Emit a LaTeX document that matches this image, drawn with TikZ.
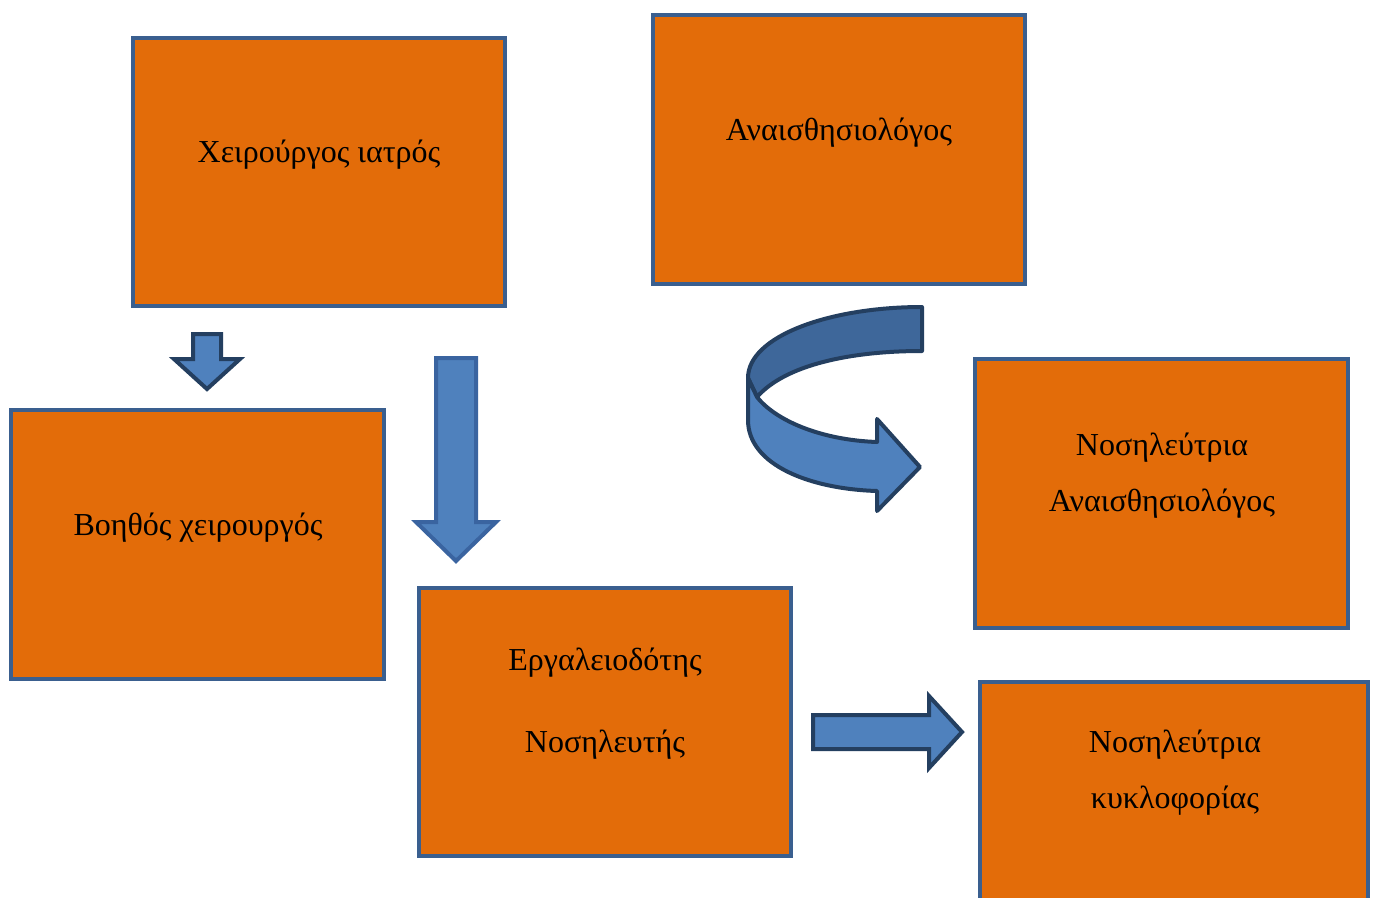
\documentclass[tikz,border=0pt]{standalone}
\usepackage{fontspec}
\setmainfont{Liberation Serif}
\definecolor{boxfill}{HTML}{E36C09}
\definecolor{boxline}{HTML}{3A5F8F}
\definecolor{arrfill}{HTML}{4F81BD}
\definecolor{arrline}{HTML}{243F60}
\definecolor{arrlinelight}{HTML}{3A64A0}
\definecolor{backband}{HTML}{3E679A}
\begin{document}
\begin{tikzpicture}[x=1pt,y=-1pt,
  box/.style={draw=boxline,fill=boxfill,line width=4pt,inner sep=0pt},
  lbl/.style={font=\fontsize{32}{38}\selectfont,text height=0.7em,text depth=0.25em,inner sep=0pt,anchor=center},
  blockarrow/.style={draw=arrline,fill=arrfill,line width=4pt,line join=miter},
]
\useasboundingbox (0,0) rectangle (1378,897);
\clip (0,0) rectangle (1378,897);
\fill[white] (0,0) rectangle (1378,897);

% boxes
\draw[box] (133,38) rectangle (505,306) node[pos=0.5] (b1) {};
\draw[box] (653,15) rectangle (1025,284) node[pos=0.5] (b2) {};
\draw[box] (11,410) rectangle (384,679) node[pos=0.5] (b3) {};
\draw[box] (419,588) rectangle (791,856) node[pos=0.5] (b4) {};
\draw[box] (975,359) rectangle (1348,628) node[pos=0.5] (b5) {};
\draw[box] (980,682) rectangle (1368,940) node[pos=0.5] (b6) {};

% labels
\node[lbl] (t1) at (319,160) {Χειρούργος ιατρός};
\node[lbl] (t2) at (839,138) {Αναισθησιολόγος};
\node[lbl] (t3) at (198,533) {Βοηθός χειρουργός};
\node[lbl] (t4a) at (605,668) {Εργαλειοδότης};
\node[lbl] (t4b) at (605,750) {Νοσηλευτής};
\node[lbl] (t5a) at (1162,453) {Νοσηλεύτρια};
\node[lbl] (t5b) at (1162,509) {Αναισθησιολόγος};
\node[lbl] (t6a) at (1175,750) {Νοσηλεύτρια};
\node[lbl] (t6b) at (1175,806) {κυκλοφορίας};

% small down arrow
\draw[blockarrow] (193,334) -- (221,334) -- (221,359) -- (240,359) -- (207,389) -- (174,359) -- (193,359) -- cycle;

% long down arrow
\draw[blockarrow,draw=arrlinelight] (436,358) -- (476,358) -- (476,522) -- (496,522) -- (456,561) -- (416,522) -- (436,522) -- cycle;

% right arrow
\draw[blockarrow] (813,715) -- (929,715) -- (929,696) -- (962,732) -- (929,768) -- (929,749) -- (813,749) -- cycle;

% curved arrow: back band
\draw[blockarrow,fill=backband,line join=round] (922,307) .. controls (830,307) and (748,336) .. (748,378)
  -- (757,397) .. controls (785,365) and (850,351) .. (922,351) -- cycle;
% curved arrow: front band
\draw[blockarrow,line join=round] (748,378) -- (757,397) .. controls (775,420) and (820,440) .. (877,442)
  -- (877,419) -- (920,467) -- (877,511) -- (877,491)
  .. controls (810,489) and (748,465) .. (748,420) -- cycle;
\end{tikzpicture}
\end{document}
